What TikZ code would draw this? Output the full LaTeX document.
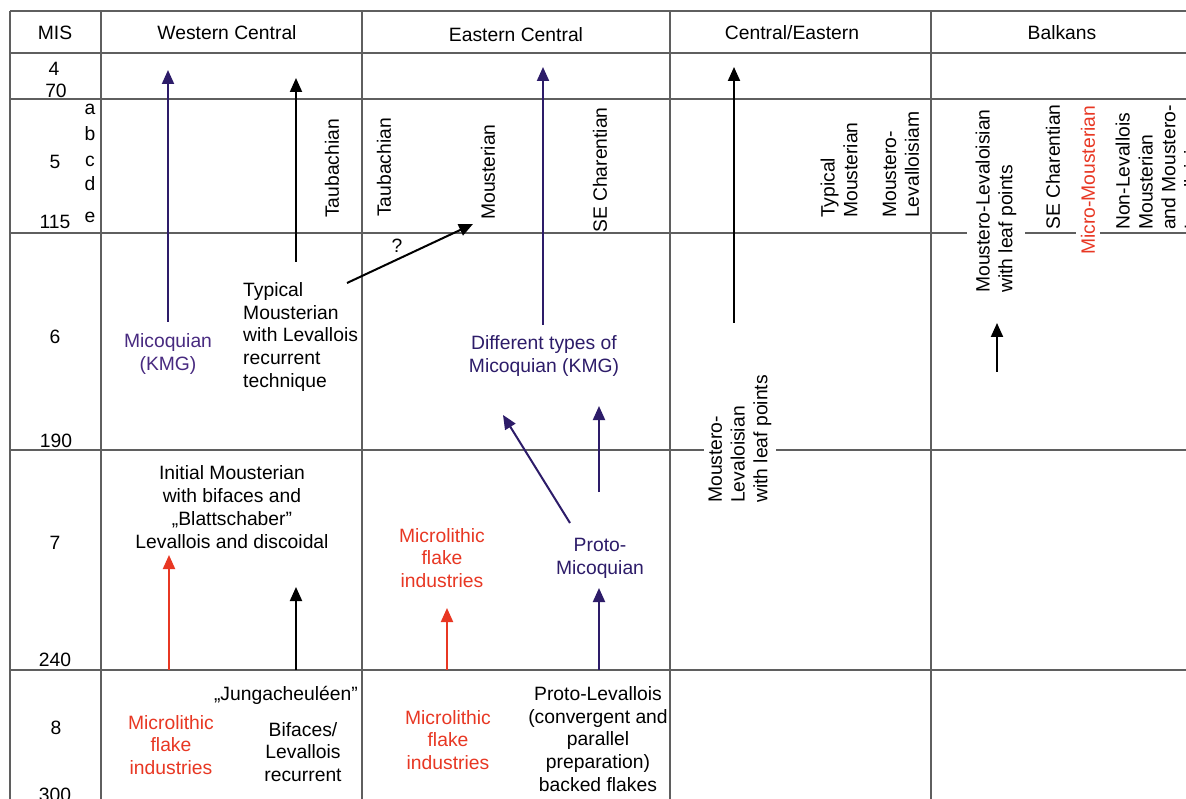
\documentclass[tikz,border=0pt]{standalone}
\usepackage{fontspec}
\setmainfont{Liberation Sans}
\usetikzlibrary{arrows.meta}
\definecolor{gridc}{RGB}{95,95,95}
\definecolor{purp}{RGB}{45,28,105}
\definecolor{lpurp}{RGB}{72,42,128}
\definecolor{redc}{RGB}{232,55,35}
\begin{document}
\begin{tikzpicture}[x=1pt,y=-1pt,
  txt/.style={font=\fontsize{19.3}{22.8}\selectfont, inner sep=0pt, align=center},
  rot/.style={txt, rotate=90, anchor=west, align=left},
  gridl/.style={draw=gridc, line width=1.2pt},
  arr/.style={line width=2pt, -{Triangle[length=14pt,width=12pt]}},
]
\useasboundingbox (0,0) rectangle (1186,799);
\fill[white] (0,0) rectangle (1186,799);
% grid
\foreach \yy in {11,53,99,233,450,670} \draw[gridl] (10,\yy) -- (1190,\yy);
\foreach \xx in {10,101,362,670,931} \draw[gridl] (\xx,11) -- (\xx,805);
% headers
\node[txt] (hMIS) at (55,33) {MIS};
\node[txt] (hWC) at (227,33) {Western Central};
\node[txt] (hEC) at (516,35) {Eastern Central};
\node[txt] (hCE) at (792,33) {Central/Eastern};
\node[txt] (hB) at (1062,33) {Balkans};
% MIS column
\node[txt] (m4) at (54,69) {4};
\node[txt] (m70) at (56,91) {70};
\node[txt] (m5) at (55,162) {5};
\node[txt] (ma) at (90,109) {a};
\node[txt] (mb) at (90,134) {b};
\node[txt] (mc) at (90,161) {c};
\node[txt] (md) at (90,184) {d};
\node[txt] (me) at (90,217) {e};
\node[txt] (m115) at (55,222) {115};
\node[txt] (m6) at (55,337) {6};
\node[txt] (m190) at (56,441) {190};
\node[txt] (m7) at (55,543) {7};
\node[txt] (m240) at (55,660) {240};
\node[txt] (m8) at (56,728) {8};
\node[txt] (m300) at (55,795) {300};
% Western Central
\node[rot] (wTau) at (332,218) {Taubachian};
\node[txt, text=lpurp] (wMic) at (168,354) {Micoquian\\(KMG)};
\node[txt, anchor=west, align=left] (wTyp) at (243,337) {Typical\\Mousterian\\with Levallois\\recurrent\\technique};
\node[txt] (wIni) at (232,507) {Initial Mousterian\\with bifaces and\\„Blattschaber”\\Levallois and discoidal};
\node[txt, anchor=east] (wJung) at (358,695) {„Jungacheuléen”};
\node[txt, text=redc] (wMicro) at (171,745) {Microlithic\\flake\\industries};
\node[txt] (wBif) at (303,752) {Bifaces/\\Levallois\\recurrent};
% Eastern Central
\node[rot] (eTau) at (384,217) {Taubachian};
\node[rot] (eMou) at (488,220) {Mousterian};
\node[rot] (eSE) at (600,233) {SE Charentian};
\node[txt] (eQ) at (397,246) {?};
\node[txt, text=purp] (eDiff) at (544,356) {Different types of\\Micoquian (KMG)};
\node[txt, text=redc] (eMicro7) at (442,558) {Microlithic\\flake\\industries};
\node[txt, text=purp] (eProto) at (600,558) {Proto-\\Micoquian};
\node[txt, text=redc] (eMicro8) at (448,740) {Microlithic\\flake\\industries};
\node[txt] (eProtoL) at (598,739) {Proto-Levallois\\(convergent and\\parallel\\preparation)\\backed flakes};
% Central/Eastern
\node[rot] (cTyp) at (839,218) {Typical\\Mousterian};
\node[rot] (cML) at (901,218) {Moustero-\\Levalloisiam};
\node[rot, fill=white, inner ysep=5pt] (cMLL) at (740,503) {Moustero-\\Levaloisian\\with leaf points};
% Balkans
\node[rot, fill=white, inner ysep=9pt] (bML) at (996,293) {Moustero-Levaloisian\\with leaf points};
\node[rot, fill=white, inner ysep=2pt] (bSE) at (1053,230) {SE Charentian};
\node[rot, fill=white, inner ysep=5pt, text=redc] (bMM) at (1088,255) {Micro-Mousterian};
\node[rot, fill=white, inner ysep=3pt] (bNL) at (1157,230) {Non-Levallois\\Mousterian\\and Moustero-\\Levalloisian};
% arrow end points
\coordinate (a1s) at (168,322); \coordinate (a1e) at (168,70);
\coordinate (a2s) at (296,262); \coordinate (a2e) at (296,78);
\coordinate (a3s) at (169,670); \coordinate (a3e) at (169,555);
\coordinate (a4s) at (296,670); \coordinate (a4e) at (296,587);
\coordinate (a5s) at (347,283); \coordinate (a5e) at (473,224);
\coordinate (a6s) at (543,325); \coordinate (a6e) at (543,67);
\coordinate (a7s) at (570,523); \coordinate (a7e) at (503,415);
\coordinate (a8s) at (599,492); \coordinate (a8e) at (599,406);
\coordinate (a9s) at (447,670); \coordinate (a9e) at (447,608);
\coordinate (a10s) at (599,670); \coordinate (a10e) at (599,588);
\coordinate (a11s) at (734,323); \coordinate (a11e) at (734,67);
\coordinate (a12s) at (997,372); \coordinate (a12e) at (997,323);
% arrows
\draw[arr, purp] (a1s) -- (a1e);
\draw[arr, black] (a2s) -- (a2e);
\draw[arr, redc] (a3s) -- (a3e);
\draw[arr, black] (a4s) -- (a4e);
\draw[arr, black] (a5s) -- (a5e);
\draw[arr, purp] (a6s) -- (a6e);
\draw[arr, purp] (a7s) -- (a7e);
\draw[arr, purp] (a8s) -- (a8e);
\draw[arr, redc] (a9s) -- (a9e);
\draw[arr, purp] (a10s) -- (a10e);
\draw[arr, black] (a11s) -- (a11e);
\draw[arr, black] (a12s) -- (a12e);
\end{tikzpicture}
\end{document}
